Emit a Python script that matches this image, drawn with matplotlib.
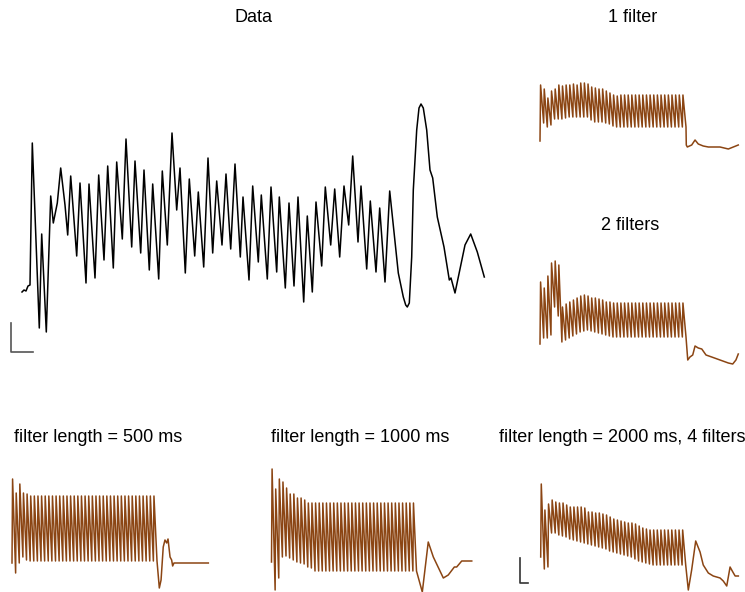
import matplotlib.pyplot as plt

plt.rcParams['font.family'] = ['Liberation Sans', 'DejaVu Sans']

# recorded trace, time (ms) and membrane response (mV)
data_t = [0, 20, 40, 60, 80, 103, 173, 197, 243, 287, 313, 353, 387, 430, 457,
          487, 547, 580, 640, 670, 730, 767, 820, 857, 913, 947, 1003, 1040,
          1097, 1130, 1187, 1220, 1273, 1307, 1367, 1403, 1453, 1500, 1547,
          1580, 1633, 1673, 1727, 1763, 1817, 1860, 1907, 1947, 2000, 2040,
          2087, 2130, 2183, 2210, 2270, 2307, 2363, 2393, 2453, 2490, 2547,
          2573, 2633, 2670, 2720, 2760, 2817, 2853, 2903, 2940, 2997, 3033,
          3087, 3127, 3177, 3220, 3267, 3307, 3360, 3390, 3447, 3483, 3540,
          3577, 3630, 3677, 3763, 3813, 3837, 3853, 3873, 3897, 3913, 3947,
          3970, 3990, 4013, 4047, 4080, 4107, 4153, 4220, 4273, 4290, 4330,
          4430, 4487, 4553, 4623]
data_v = [0.8, 1.0, 0.9, 1.4, 1.5, 15.7, -2.8, 6.6, -3.2, 10.4, 7.7, 9.7, 13.2,
          9.5, 6.5, 12.4, 4.4, 11.7, 1.7, 11.6, 2.2, 12.5, 4.0, 13.4, 3.2, 13.8,
          6.1, 16.1, 5.3, 13.9, 4.7, 13.0, 3.0, 11.6, 2.1, 12.9, 5.5, 16.7, 9.0,
          13.2, 2.7, 12.1, 4.4, 10.8, 3.3, 14.2, 4.7, 11.9, 5.5, 12.6, 5.1, 13.6,
          4.3, 10.3, 2.0, 11.4, 3.8, 10.5, 2.1, 11.3, 2.8, 10.3, 1.2, 9.7, 1.4,
          10.3, -0.2, 8.4, 0.8, 9.8, 3.4, 11.3, 5.5, 11.1, 4.3, 11.4, 7.5, 14.4,
          5.8, 11.4, 3.1, 9.9, 2.8, 9.2, 1.8, 10.9, 2.7, 0.3, -0.5, -0.7, -0.3,
          4.3, 11.0, 17.0, 19.2, 19.6, 19.2, 17.0, 13.0, 12.2, 8.3, 5.3, 2.0,
          2.2, 0.7, 5.5, 6.6, 4.8, 2.3]

# model responses to a 40-pulse train
n_pulses = 40
pulse_period = 25  # ms
rise_time = 4      # ms

one_peaks = [5.6, 5.2, 4.3, 5.0, 5.2, 5.6, 5.5, 5.6, 5.6, 5.7, 5.6, 5.8, 5.8,
             5.7, 5.4, 5.3, 5.2, 5.2, 5.0, 4.8, 4.6, 4.5, 4.6, 4.6, 4.6, 4.6,
             4.6, 4.6, 4.6, 4.6, 4.6, 4.6, 4.6, 4.6, 4.6, 4.6, 4.6, 4.6, 4.6,
             4.6]
one_troughs = [1.8, 1.4, 1.6, 2.2, 2.2, 2.2, 2.3, 2.4, 2.4, 2.4, 2.4, 2.4, 2.4,
               2.1, 1.9, 1.9, 1.9, 1.8, 1.7, 1.5, 1.4, 1.4, 1.4, 1.4, 1.4, 1.4,
               1.4, 1.4, 1.4, 1.4, 1.4, 1.4, 1.4, 1.4, 1.4, 1.4, 1.4, 1.4, 1.4,
               1.4]
one_tail_t = [1002, 1009, 1039, 1062, 1084, 1118, 1153, 1233, 1290, 1324, 1358]
one_tail_v = [-0.4, -0.6, -0.4, 0.1, -0.3, -0.5, -0.6, -0.6, -0.8, -0.6, -0.4]

two_peaks = [6.2, 5.6, 6.8, 8.1, 8.3, 7.9, 3.7, 4.0, 4.2, 4.4, 4.6, 4.8, 4.9,
             4.8, 4.6, 4.6, 4.5, 4.4, 4.2, 4.2, 4.1, 4.1, 4.1, 4.1, 4.1, 4.1,
             4.1, 4.1, 4.1, 4.1, 4.1, 4.1, 4.1, 4.1, 4.1, 4.1, 4.1, 4.1, 4.1,
             4.1]
two_troughs = [0.6, 0.6, 0.9, 3.7, 2.8, 0.2, 0.4, 0.6, 0.8, 1.0, 1.2, 1.3, 1.4,
               1.3, 1.2, 1.1, 1.0, 0.9, 0.8, 0.7, 0.7, 0.7, 0.7, 0.7, 0.7, 0.7,
               0.7, 0.7, 0.7, 0.7, 0.7, 0.7, 0.7, 0.7, 0.7, 0.7, 0.7, 0.7, 0.7,
               0.7]
two_tail_t = [1012, 1027, 1046, 1062, 1073, 1084, 1108, 1137, 1176, 1233, 1290,
              1320, 1342, 1358]
two_tail_v = [-1.6, -1.3, -1.1, -0.2, -0.3, -0.4, -0.5, -1.1, -1.3, -1.6, -1.9,
              -2.0, -1.6, -1.0]

len500_peaks = [8.4, 7.0, 7.9, 7.0, 6.9, 6.7, 6.7, 6.7, 6.7, 6.7, 6.7, 6.7,
                6.7, 6.7, 6.7, 6.7, 6.7, 6.7, 6.7, 6.7, 6.7, 6.7, 6.7, 6.7,
                6.7, 6.7, 6.7, 6.7, 6.7, 6.7, 6.7, 6.7, 6.7, 6.7, 6.7, 6.7,
                6.7, 6.7, 6.7, 6.7]
len500_troughs = [-1.0, 0.0, 0.6, 0.3, 0.2, 0.2, 0.2, 0.2, 0.2, 0.2, 0.2, 0.2,
                  0.2, 0.2, 0.2, 0.2, 0.2, 0.2, 0.2, 0.2, 0.2, 0.2, 0.2, 0.2,
                  0.2, 0.2, 0.2, 0.2, 0.2, 0.2, 0.2, 0.2, 0.2, 0.2, 0.2, 0.2,
                  0.2, 0.2, 0.2, 0.2]
len500_tail_t = [1016, 1028, 1043, 1055, 1067, 1076, 1090, 1101, 1108, 1117, 1354]
len500_tail_v = [-2.5, -1.7, 1.6, 2.3, 2.0, 2.4, 0.6, 0.3, -0.3, 0.0, 0.0]

len1000_peaks = [9.3, 7.3, 8.3, 8.0, 7.4, 6.8, 6.8, 6.4, 6.4, 6.2, 5.9, 5.9,
                 5.9, 5.9, 5.9, 5.9, 5.9, 5.9, 5.9, 5.9, 5.9, 5.9, 5.9, 5.9,
                 5.9, 5.9, 5.9, 5.9, 5.9, 5.9, 5.9, 5.9, 5.9, 5.9, 5.9, 5.9,
                 5.9, 5.9, 5.9, 5.9]
len1000_troughs = [-2.8, -1.6, 0.5, 0.6, 0.4, 0.2, 0.0, -0.1, -0.2, -0.5, -0.6,
                   -0.9, -0.9, -0.9, -0.9, -0.9, -0.9, -0.9, -0.9, -0.9, -0.9,
                   -0.9, -0.9, -0.9, -0.9, -0.9, -0.9, -0.9, -0.9, -0.9, -0.9,
                   -0.9, -0.9, -0.9, -0.9, -0.9, -0.9, -0.9, -0.9, -0.9]
len1000_tail_t = [1040, 1081, 1116, 1185, 1219, 1261, 1277, 1312, 1381]
len1000_tail_v = [-3.0, 2.0, 0.5, -1.6, -1.3, -0.5, -0.5, 0.1, 0.1]

len2000_peaks = [7.3, 4.7, 5.3, 5.7, 5.5, 5.4, 5.4, 5.2, 5.0, 5.0, 5.0, 5.0,
                 4.9, 4.5, 4.5, 4.4, 4.4, 4.3, 4.2, 4.0, 3.8, 3.7, 3.6, 3.5,
                 3.4, 3.4, 3.3, 3.1, 2.9, 2.8, 2.7, 2.7, 2.7, 2.7, 2.7, 2.7,
                 2.7, 2.7, 2.7, 2.7]
len2000_troughs = [-1.2, -1.0, 2.4, 2.4, 2.2, 2.1, 2.0, 1.8, 1.7, 1.6, 1.5, 1.4,
                   1.3, 1.2, 1.1, 1.0, 0.9, 0.8, 0.6, 0.5, 0.4, 0.3, 0.2, 0.1,
                   0.0, -0.2, -0.4, -0.5, -0.6, -0.7, -0.8, -0.8, -0.8, -0.8,
                   -0.8, -0.8, -0.8, -0.8, -0.8, -0.8]
len2000_tail_t = [1018, 1041, 1069, 1099, 1121, 1156, 1190, 1237, 1259, 1283,
                  1306, 1325, 1341, 1363]
len2000_tail_v = [-3.3, -1.3, 1.6, 0.5, -0.8, -1.6, -1.9, -2.1, -2.4, -2.9,
                  -1.0, -1.5, -1.9, -1.9]

W, H = 745, 592
fig = plt.figure(figsize=(W / 100, H / 100), dpi=100)
brown = '#8b4513'
title_size = 13


def trace_axes(box, x0, y0, sx, sy):
    # box is (left, top, right, bottom) in pixels; x0/y0 = pixel of t=0, v=0
    l, t, r, b = box
    ax = fig.add_axes([l / W, 1 - b / H, (r - l) / W, (b - t) / H])
    ax.set_xlim((l - x0) / sx, (r - x0) / sx)
    ax.set_ylim((y0 - b) / sy, (y0 - t) / sy)
    ax.axis('off')
    return ax


def pulse_trace(peaks, troughs, tail_t, tail_v):
    t, v = [0], [0]
    for i in range(n_pulses):
        t += [i * pulse_period + rise_time, (i + 1) * pulse_period]
        v += [peaks[i], troughs[i]]
    return t + tail_t, v + tail_v


# recorded data
ax = trace_axes((0, 85, 495, 360), 22, 300, 0.1, 10)
ax.plot(data_t, data_v, color='black', lw=1.1)
ax.plot([-110, -110, 113], [-2.3, -5.2, -5.2], color='#555555', lw=1.2)
fig.text(253 / W, 1 - 17 / H, 'Data', ha='center', va='center',
         fontsize=title_size)

panels = [
    ((530, 70, 745, 160), 540, 141, 0.146, one_peaks, one_troughs,
     one_tail_t, one_tail_v, '1 filter', (633, 17)),
    ((530, 245, 745, 372), 540, 344, 0.146, two_peaks, two_troughs,
     two_tail_t, two_tail_v, '2 filters', (630, 226)),
    ((0, 465, 215, 592), 12, 563, 0.145, len500_peaks, len500_troughs,
     len500_tail_t, len500_tail_v, 'filter length = 500 ms', (98, 437)),
    ((258, 455, 480, 592), 271.5, 562, 0.145, len1000_peaks, len1000_troughs,
     len1000_tail_t, len1000_tail_v, 'filter length = 1000 ms', (360, 437)),
    ((505, 470, 745, 592), 540.7, 557, 0.145, len2000_peaks, len2000_troughs,
     len2000_tail_t, len2000_tail_v, 'filter length = 2000 ms, 4 filters',
     (622, 437)),
]

for box, x0, y0, sx, pk, tr, tt, tv, title, (tx, ty) in panels:
    ax = trace_axes(box, x0, y0, sx, 10)
    t, v = pulse_trace(pk, tr, tt, tv)
    ax.plot(t, v, color=brown, lw=1.1)
    fig.text(tx / W, 1 - ty / H, title, ha='center', va='center',
             fontsize=title_size)

# scale bar on the last panel
ax.plot([-145, -145, -86], [-0.1, -2.6, -2.6], color='#333333', lw=1.2)

fig.savefig('out.png', dpi=100)
